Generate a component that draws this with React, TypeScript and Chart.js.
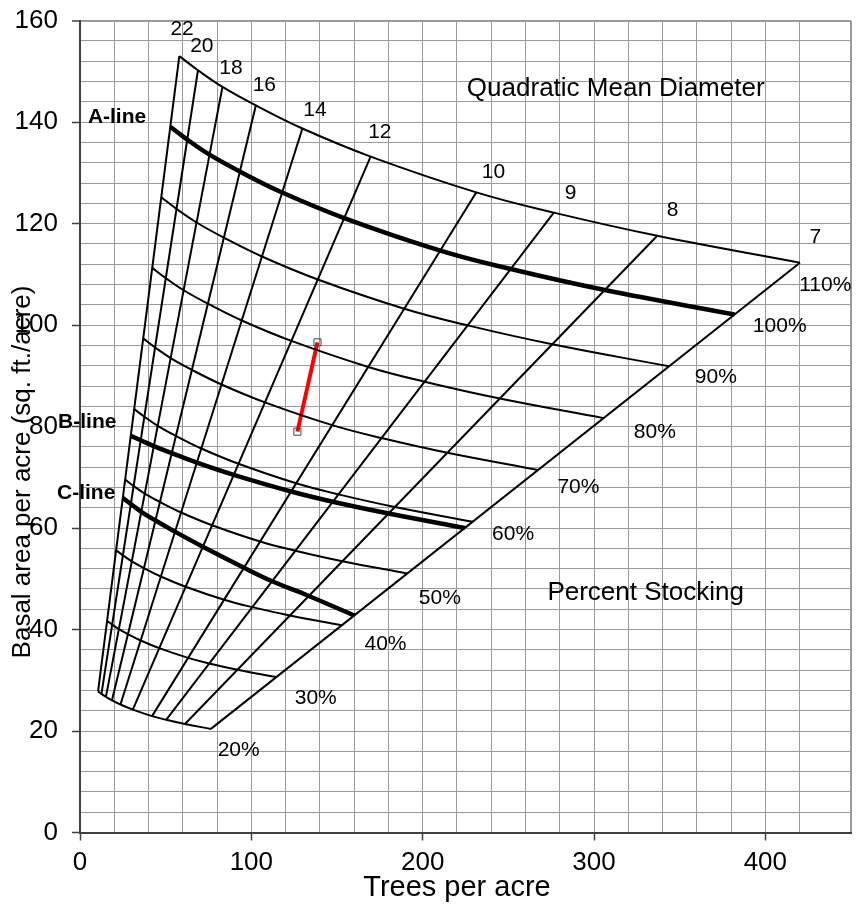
import React, { useEffect, useRef } from 'react';
import { Chart, registerables } from 'chart.js';

Chart.register(...registerables);

// Quadratic mean diameters (inches), ordered from largest to smallest
const diameters = [22, 20, 18, 16, 14, 12, 10, 9, 8, 7];
const stockingLevels = [20, 30, 40, 50, 60, 70, 80, 90, 100, 110];

// Trees per acre / basal area at each diameter for every stocking level
const tpa20 = [10.54, 12.52, 15.12, 18.66, 23.6, 30.84, 42.06, 50.28, 61.26, 76.4];
const ba20 = [27.82, 27.31, 26.72, 26.05, 25.23, 24.22, 22.94, 22.21, 21.38, 20.42];
const tpa30 = [15.81, 18.78, 22.68, 27.99, 35.4, 46.26, 63.09, 75.42, 91.89, 114.6];
const ba30 = [41.73, 40.97, 40.08, 39.08, 37.84, 36.33, 34.41, 33.32, 32.08, 30.63];
const tpa40 = [21.08, 25.04, 30.24, 37.32, 47.2, 61.68, 84.12, 100.56, 122.52, 152.8];
const ba40 = [55.64, 54.63, 53.44, 52.11, 50.46, 48.44, 45.88, 44.42, 42.77, 40.84];
const tpa50 = [26.35, 31.3, 37.8, 46.65, 59.0, 77.1, 105.15, 125.7, 153.15, 191.0];
const ba50 = [69.56, 68.29, 66.8, 65.14, 63.07, 60.56, 57.35, 55.53, 53.46, 51.05];
const tpa60 = [31.62, 37.56, 45.36, 55.98, 70.8, 92.52, 126.18, 150.84, 183.78, 229.2];
const ba60 = [83.47, 81.94, 80.15, 78.16, 75.68, 72.67, 68.82, 66.64, 64.15, 61.25];
const tpa70 = [36.89, 43.82, 52.92, 65.31, 82.6, 107.94, 147.21, 175.98, 214.41, 267.4];
const ba70 = [97.38, 95.6, 93.51, 91.19, 88.3, 84.78, 80.29, 77.74, 74.84, 71.46];
const tpa80 = [42.16, 50.08, 60.48, 74.64, 94.4, 123.36, 168.24, 201.12, 245.04, 305.6];
const ba80 = [111.29, 109.26, 106.87, 104.22, 100.91, 96.89, 91.76, 88.85, 85.54, 81.67];
const tpa90 = [47.43, 56.34, 68.04, 83.97, 106.2, 138.78, 189.27, 226.26, 275.67, 343.8];
const ba90 = [125.2, 122.91, 120.23, 117.24, 113.53, 109.0, 103.23, 99.95, 96.23, 91.88];
const tpa100 = [52.7, 62.6, 75.6, 93.3, 118.0, 154.2, 210.3, 251.4, 306.3, 382.0];
const ba100 = [139.11, 136.57, 133.59, 130.27, 126.14, 121.11, 114.7, 111.06, 106.92, 102.09];
const tpa110 = [57.97, 68.86, 83.16, 102.63, 129.8, 169.62, 231.33, 276.54, 336.93, 420.2];
const ba110 = [153.02, 150.23, 146.95, 143.3, 138.75, 133.22, 126.17, 122.17, 117.61, 112.3];

// B-line and C-line
const bLineTpa = [29.62, 35.43, 43.09, 53.55, 68.2, 89.74, 123.24, 147.57, 180.1, 224.62];
const bLineBa = [78.18, 77.3, 76.15, 74.77, 72.91, 70.49, 67.21, 65.19, 62.87, 60.03];
const cLineTpa = [24.98, 29.67, 35.76, 44.04, 55.46, 71.7, 95.69, 112.12, 133.55, 160.06];
const cLineBa = [65.94, 64.73, 63.19, 61.49, 59.29, 56.32, 52.19, 49.53, 46.62, 42.78];

// Stand movement (red segment)
const standTpa = [126.9, 138.6];
const standBa = [79.0, 96.6];

const stockingTpa = [tpa20, tpa30, tpa40, tpa50, tpa60, tpa70, tpa80, tpa90, tpa100, tpa110];
const stockingBa = [ba20, ba30, ba40, ba50, ba60, ba70, ba80, ba90, ba100, ba110];

// Annotation anchors (data units)
const diameterLabelAnchors = [
  [59.6, 158.3], [71.1, 154.9], [88.1, 150.7], [107.6, 147.2], [137.1, 142.3],
  [175.0, 138.0], [241.3, 130.1], [286.3, 126.0], [345.9, 122.6], [429.2, 117.3],
];
const stockingLabelAnchors = [
  [92.6, 16.2], [137.6, 26.5], [178.3, 37.1], [210.0, 46.2], [252.8, 58.8],
  [290.9, 68.0], [335.5, 78.8], [371.1, 89.8], [408.4, 99.7], [435.0, 107.9],
];

const FONT = "'Liberation Sans', Arial, Helvetica, sans-serif";
const THIN = 2;
const THICK = 4.5;

const pts = (xs: number[], ys: number[]) => xs.map((x, i) => ({ x, y: ys[i] }));

const textPlugin = {
  id: 'chartText',
  afterDatasetsDraw(chart: any) {
    const { ctx, scales } = chart;
    const xs = scales.x;
    const ys = scales.y;
    const px = (v: number) => xs.getPixelForValue(v);
    const py = (v: number) => ys.getPixelForValue(v);
    ctx.save();
    ctx.fillStyle = '#000';
    ctx.textBaseline = 'middle';

    ctx.font = `21px ${FONT}`;
    ctx.textAlign = 'center';
    diameters.forEach((d, i) => {
      const [ax, ay] = diameterLabelAnchors[i];
      ctx.fillText(String(d), px(ax), py(ay));
    });
    stockingLevels.forEach((s, i) => {
      const [ax, ay] = stockingLabelAnchors[i];
      ctx.fillText(`${s}%`, px(ax), py(ay));
    });

    ctx.textAlign = 'left';
    ctx.font = `26px ${FONT}`;
    ctx.fillText('Quadratic Mean Diameter', px(225.8), py(146.5));
    ctx.fillText('Percent Stocking', px(272.8), py(47.3));

    ctx.font = `bold 21px ${FONT}`;
    ctx.fillText('A-line', px(4.6), py(140.9));
    ctx.fillText('B-line', px(-12.8), py(80.8));
    ctx.fillText('C-line', px(-13.4), py(66.8));

    // axis titles
    ctx.textAlign = 'center';
    ctx.font = `29px ${FONT}`;
    ctx.fillText('Trees per acre', 457, 888);
    ctx.font = `26px ${FONT}`;
    ctx.translate(23, 472);
    ctx.rotate(-Math.PI / 2);
    ctx.fillText('Basal area per acre (sq. ft./acre)', 0, 0);
    ctx.restore();
  },
};

export default function App() {
  const canvasRef = useRef<HTMLCanvasElement | null>(null);

  useEffect(() => {
    const canvas = canvasRef.current;
    if (!canvas) return;

    const datasets: any[] = [];

    diameters.forEach((d, i) => {
      datasets.push({
        label: `QMD ${d}`,
        data: [
          { x: tpa20[i], y: ba20[i] },
          { x: tpa110[i], y: ba110[i] },
        ],
        showLine: true,
        borderColor: '#000',
        borderWidth: THIN,
        pointRadius: 0,
        tension: 0,
      });
    });

    stockingLevels.forEach((s, i) => {
      datasets.push({
        label: `${s}%`,
        data: pts(stockingTpa[i], stockingBa[i]),
        showLine: true,
        borderColor: '#000',
        borderWidth: s === 100 ? THICK : THIN,
        pointRadius: 0,
        tension: 0.4,
      });
    });

    datasets.push({
      label: 'B-line',
      data: pts(bLineTpa, bLineBa),
      showLine: true,
      borderColor: '#000',
      borderWidth: THICK,
      pointRadius: 0,
      tension: 0.4,
    });
    datasets.push({
      label: 'C-line',
      data: pts(cLineTpa, cLineBa),
      showLine: true,
      borderColor: '#000',
      borderWidth: THICK,
      pointRadius: 0,
      tension: 0.4,
    });
    datasets.push({
      label: 'Stand',
      data: pts(standTpa, standBa),
      showLine: true,
      borderColor: '#ff0000',
      borderWidth: 4,
      pointStyle: 'rect',
      pointRadius: 5,
      pointBorderColor: '#444',
      pointBorderWidth: 1,
      pointBackgroundColor: 'rgba(255,255,255,0)',
    });

    const chart = new Chart(canvas, {
      type: 'scatter',
      data: { datasets },
      options: {
        animation: false,
        responsive: false,
        layout: { padding: { top: 20.7, right: 3, left: 0, bottom: 0 } },
        plugins: {
          legend: { display: false },
          tooltip: { enabled: false },
        },
        scales: {
          x: {
            type: 'linear',
            min: 0,
            max: 450,
            afterFit: (s: any) => {
              s.height = 80.5;
              s.paddingLeft = 0;
              s.paddingRight = 0;
              s.paddingTop = 0;
              s.paddingBottom = 0;
            },
            border: { color: '#404040', width: 2 },
            grid: {
              color: '#9a9a9a',
              lineWidth: (c: any) => (c.tick && c.tick.value === 450 ? 2 : 1),
              tickLength: 8,
              tickWidth: 1.5,
              tickColor: (c: any) => (c.tick && c.tick.value % 100 === 0 ? '#404040' : 'rgba(0,0,0,0)'),
            },
            ticks: {
              stepSize: 20,
              autoSkip: false,
              maxRotation: 0,
              padding: 7,
              color: '#000',
              font: { family: FONT, size: 26 },
              callback: (v: any) => (Number(v) % 100 === 0 ? String(v) : ''),
            },
          },
          y: {
            type: 'linear',
            min: 0,
            max: 160,
            afterFit: (s: any) => {
              s.width = 80;
              s.paddingLeft = 0;
              s.paddingRight = 0;
              s.paddingTop = 0;
              s.paddingBottom = 0;
            },
            border: { color: '#404040', width: 2 },
            grid: {
              color: '#9a9a9a',
              lineWidth: (c: any) => (c.tick && c.tick.value === 160 ? 2 : 1),
              tickLength: 8,
              tickWidth: 1.5,
              tickColor: (c: any) => (c.tick && c.tick.value % 20 === 0 ? '#404040' : 'rgba(0,0,0,0)'),
            },
            ticks: {
              stepSize: 4,
              autoSkip: false,
              padding: 14,
              color: '#000',
              font: { family: FONT, size: 26 },
              callback: (v: any) => (Number(v) % 20 === 0 ? String(v) : ''),
            },
          },
        },
      },
      plugins: [textPlugin],
    });

    return () => {
      chart.destroy();
    };
  }, []);

  return (
    <div style={{ position: 'absolute', left: 0, top: 0, width: 857, height: 913, background: '#fff' }}>
      <canvas ref={canvasRef} width={857} height={913} style={{ display: 'block' }} />
    </div>
  );
}
